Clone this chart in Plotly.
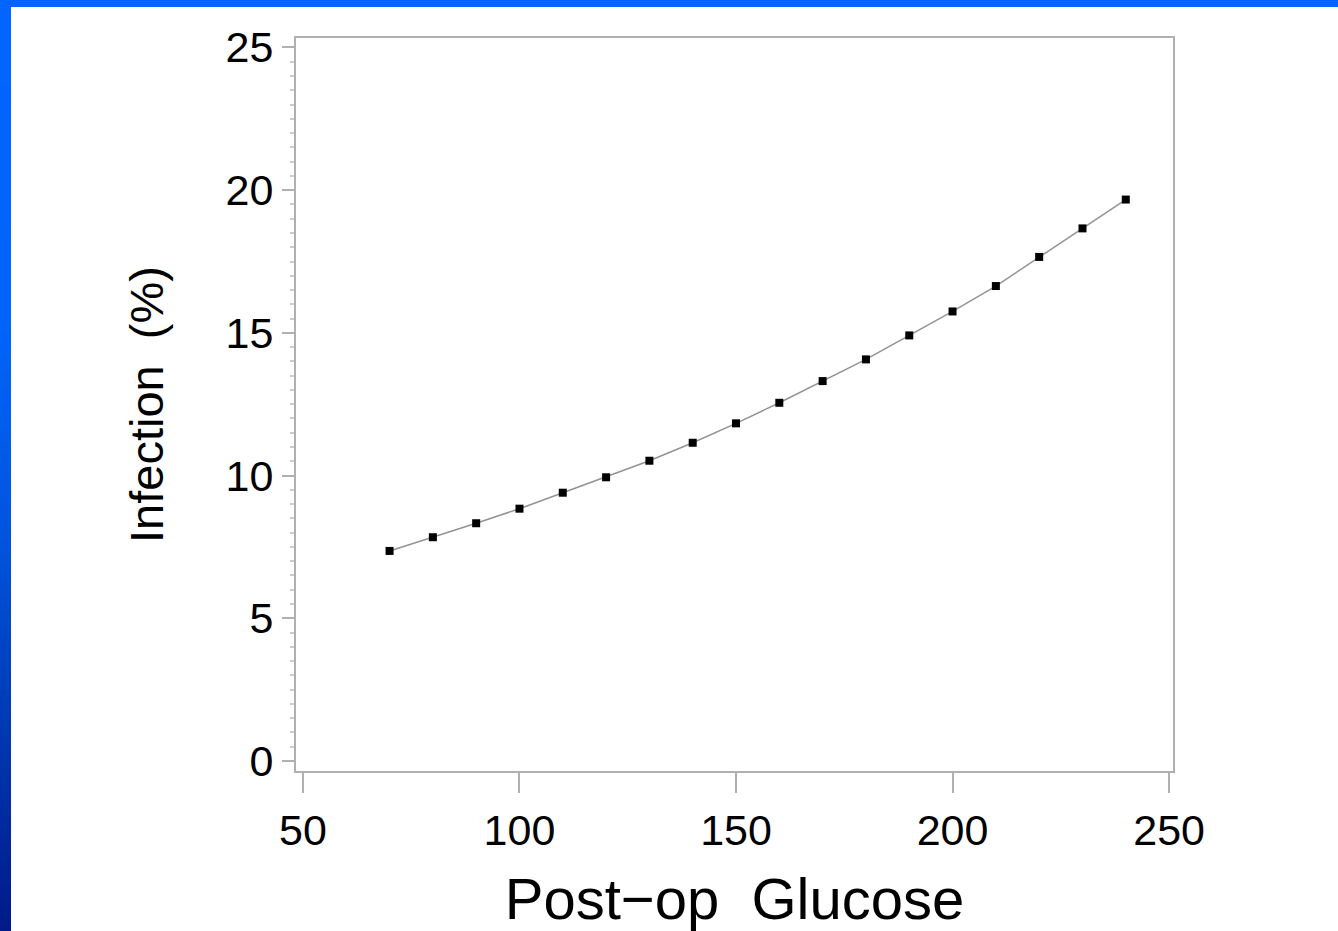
import plotly.graph_objects as go

# Data
glucose = [70, 80, 90, 100, 110, 120, 130, 140, 150, 160, 170, 180, 190, 200, 210, 220, 230, 240]
infection = [7.36, 7.84, 8.33, 8.84, 9.40, 9.94, 10.52, 11.15, 11.83, 12.55, 13.31, 14.07,
             14.91, 15.75, 16.64, 17.66, 18.66, 19.67]
x_ticks = [50, 100, 150, 200, 250]
y_ticks = [0, 5, 10, 15, 20, 25]

W, H = 1338, 931
ML, MR, MT, MB = 296, 165, 38, 160
PW, PH = W - ML - MR, H - MT - MB

FONT = "Liberation Sans, Arial, sans-serif"
AXCOL = "#b0b0b0"

fig = go.Figure()
fig.add_trace(go.Scatter(
    x=glucose, y=infection, mode="lines+markers",
    line=dict(color="#939393", width=1.5),
    marker=dict(symbol="square", size=8, color="black"),
    showlegend=False, hoverinfo="skip",
))

# Decorative slide frame: blue top bar and blue gradient left bar
def px2x(px):
    return (px - ML) / PW

def py2y(py):
    return (H - MB - py) / PH

def lerp(c1, c2, t):
    return tuple(round(a + (b - a) * t) for a, b in zip(c1, c2))

stops = [(0.0, (0, 102, 255)), (0.35, (0, 100, 250)), (0.58, (0, 84, 222)),
         (0.80, (0, 54, 176)), (1.0, (0, 26, 136))]
shapes = []
N = 120
for i in range(N):
    t0, t1 = i / N, (i + 1) / N
    tm = (t0 + t1) / 2
    for j in range(len(stops) - 1):
        if stops[j][0] <= tm <= stops[j + 1][0]:
            f = (tm - stops[j][0]) / (stops[j + 1][0] - stops[j][0])
            c = lerp(stops[j][1], stops[j + 1][1], f)
            break
    col = "rgb(%d,%d,%d)" % c
    shapes.append(dict(type="rect", xref="paper", yref="paper",
                       x0=px2x(0), x1=px2x(11), y0=py2y(H * t1 + 1.5), y1=py2y(H * t0),
                       fillcolor=col, line=dict(width=0), layer="above"))
shapes.append(dict(type="rect", xref="paper", yref="paper",
                   x0=px2x(0), x1=px2x(W), y0=py2y(7), y1=py2y(0),
                   fillcolor="#0066ff", line=dict(width=0), layer="above"))

fig.update_layout(
    width=W, height=H,
    margin=dict(l=ML, r=MR, t=MT, b=MB, autoexpand=False),
    paper_bgcolor="white", plot_bgcolor="white",
    shapes=shapes,
    font=dict(family=FONT, color="black"),
    xaxis=dict(
        range=[48.4, 250.9], tickvals=x_ticks, ticktext=[str(v) for v in x_ticks],
        ticks="outside", ticklen=20, tickwidth=2, tickcolor=AXCOL,
        showline=True, linecolor=AXCOL, linewidth=2, mirror=True,
        showgrid=False, zeroline=False,
        tickfont=dict(family=FONT, size=43, color="black"),
        ticklabelstandoff=0,
        title=dict(text="Post\u2212op\u00a0\u00a0Glucose",
                   font=dict(family=FONT, size=58, color="black"), standoff=42),
    ),
    yaxis=dict(
        range=[-0.35, 25.33], tickvals=y_ticks, ticktext=[str(v) for v in y_ticks],
        ticks="outside", ticklen=12, tickwidth=2, tickcolor=AXCOL,
        minor=dict(dtick=0.5, ticks="outside", ticklen=4, tickwidth=2, tickcolor="#cccccc"),
        showline=True, linecolor=AXCOL, linewidth=2, mirror=True,
        showgrid=False, zeroline=False,
        tickfont=dict(family=FONT, size=43, color="black"),
        ticklabelstandoff=0,
        title=dict(text="Infection\u00a0\u00a0(%)",
                   font=dict(family=FONT, size=47, color="black"), standoff=47),
    ),
)

fig.write_html(
    "out.html",
    config={"displayModeBar": False},
    post_script="document.body.style.margin='0';document.body.style.padding='0';"
                "document.body.style.overflow='hidden';",
)
